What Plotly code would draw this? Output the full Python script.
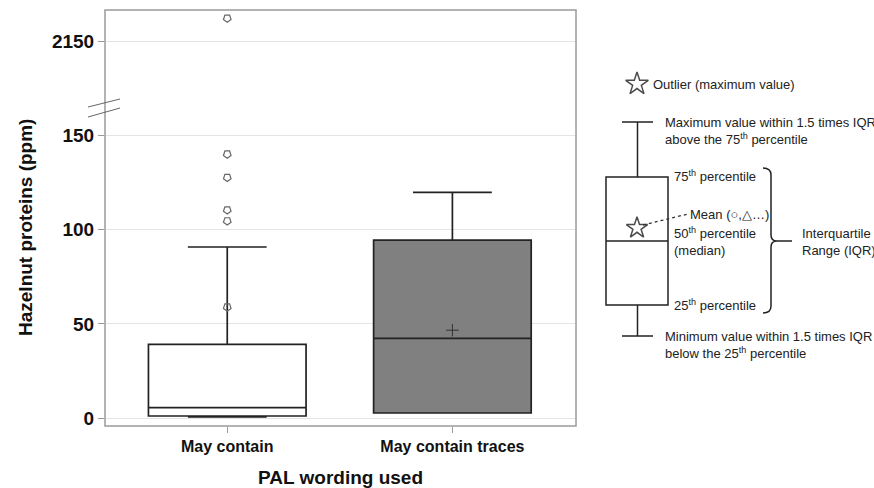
import plotly.graph_objects as go

# ---------------- data ----------------
categories = ["May contain", "May contain traces"]
q1 = [1.2, 2.8]
median = [5.6, 42.4]
q3 = [39.2, 94.5]
lowerfence = [0.7, 2.8]
upperfence = [90.8, 119.8]
box_fill = ["#ffffff", "#808080"]

mean_category = ["May contain traces"]
mean_value = [46.7]

outlier_category = ["May contain"] * 5
outlier_values = [58.9, 104.6, 110.4, 127.6, 140.0]
max_outlier_category = ["May contain"]
max_outlier_value = [2162.4]

lower_ticks = [0, 50, 100, 150]
upper_ticks = [2150]

W, H = 874, 488
FONT = "Liberation Sans, Arial, sans-serif"

fig = go.Figure()

for i, cat in enumerate(categories):
    fig.add_trace(go.Box(
        x=[cat], q1=[q1[i]], median=[median[i]], q3=[q3[i]],
        lowerfence=[lowerfence[i]], upperfence=[upperfence[i]],
        boxpoints=False, width=0.70, whiskerwidth=0.5,
        fillcolor=box_fill[i], line=dict(color="#222222", width=1.7),
        xaxis="x", yaxis="y", showlegend=False, hoverinfo="skip"))

fig.add_trace(go.Scatter(
    x=mean_category, y=mean_value, mode="markers",
    marker=dict(symbol="cross-thin-open", size=9, color="#333",
                line=dict(color="#333", width=1)),
    xaxis="x", yaxis="y", showlegend=False, hoverinfo="skip"))

fig.add_trace(go.Scatter(
    x=outlier_category, y=outlier_values, mode="markers",
    marker=dict(symbol="pentagon-open", angle=180, size=8, color="#666",
                line=dict(color="#666", width=1.2)),
    xaxis="x", yaxis="y", showlegend=False, hoverinfo="skip"))

fig.add_trace(go.Scatter(
    x=max_outlier_category, y=max_outlier_value, mode="markers",
    marker=dict(symbol="pentagon-open", angle=180, size=8, color="#666",
                line=dict(color="#666", width=1.2)),
    xaxis="x", yaxis="y2", showlegend=False, hoverinfo="skip", cliponaxis=False))

# ---------------- schematic (overlay pixel axes) ----------------
fig.add_trace(go.Scatter(
    x=[637, 637], y=[84, 228], mode="markers",
    marker=dict(symbol="star-open", size=[17, 16], color="#000",
                line=dict(color="#000", width=1.5)),
    xaxis="x3", yaxis="y3", showlegend=False, hoverinfo="skip", cliponaxis=False))


def px_line(x0, y0, x1, y1, color="#222", width=1.5, dash="solid"):
    return dict(type="line", xref="x3", yref="y3", x0=x0, y0=y0, x1=x1, y1=y1,
                line=dict(color=color, width=width, dash=dash), layer="above")


shapes = [
    # plot frame
    dict(type="rect", xref="x3", yref="y3", x0=105, y0=10, x1=576, y1=426,
         line=dict(color="#9a9a9a", width=1.5), layer="above"),
    # axis break marks
    px_line(88, 107, 120, 99, "#666", 1),
    px_line(88, 117, 120, 108, "#666", 1),
    # schematic box
    px_line(622, 122, 653, 122),
    px_line(637.5, 122, 637.5, 177),
    dict(type="rect", xref="x3", yref="y3", x0=606, y0=177, x1=668, y1=305,
         line=dict(color="#222", width=1.5), layer="above"),
    px_line(606, 241, 668, 241),
    px_line(637.5, 305, 637.5, 336),
    px_line(622, 336, 653, 336),
    px_line(643, 225, 688, 214, "#333", 1.3, "dot"),
    # brace
    dict(type="path", xref="x3", yref="y3",
         path="M 763 168 Q 771 168 771 175 L 771 235 Q 771 241 777 241 "
              "Q 771 241 771 247 L 771 306 Q 771 313 763 313",
         line=dict(color="#222", width=1.5), layer="above"),
    px_line(777, 241, 792, 241),
]

ann_font = dict(family=FONT, size=13, color="#222")


def label(x, y, text, **kw):
    d = dict(x=x, y=y, xref="x3", yref="y3", text=text, showarrow=False,
             xanchor="left", yanchor="middle", font=ann_font)
    d.update(kw)
    return d


annotations = [
    label(651, 84, "Outlier (maximum value)"),
    label(663, 122, "Maximum value within 1.5 times IQR"),
    label(663, 139, "above the 75<sup>th</sup> percentile"),
    label(672, 176, "75<sup>th</sup> percentile"),
    label(688, 214, "Mean (○,△…)"),
    label(672, 233, "50<sup>th</sup> percentile"),
    label(672, 250, "(median)"),
    label(672, 305, "25<sup>th</sup> percentile"),
    label(663, 336, "Minimum value within 1.5 times IQR"),
    label(663, 353, "below the 25<sup>th</sup> percentile"),
    label(800, 233, "Interquartile"),
    label(800, 250, "Range (IQR)"),
    dict(x=340, y=477, xref="x3", yref="y3", text="PAL wording used", showarrow=False,
         xanchor="center", yanchor="middle",
         font=dict(family=FONT, size=19, color="#111", weight="bold")),
    dict(x=25, y=228, xref="x3", yref="y3", text="Hazelnut proteins (ppm)", showarrow=False,
         xanchor="center", yanchor="middle", textangle=-90,
         font=dict(family=FONT, size=19, color="#111", weight="bold")),
]

lo_dom = [1 - 426 / H, 1 - 108 / H]
hi_dom = [1 - 108 / H, 1 - 10 / H]

tickfont = dict(family=FONT, size=19, color="#111", weight="bold")

fig.update_layout(
    width=W, height=H,
    margin=dict(l=0, r=0, t=0, b=0),
    paper_bgcolor="white", plot_bgcolor="rgba(0,0,0,0)",
    template="none",
    boxmode="overlay",
    showlegend=False,
    xaxis=dict(domain=[105 / W, 576 / W], anchor="y", type="category",
               categoryorder="array", categoryarray=categories,
               range=[-0.543, 1.549], showgrid=False, zeroline=False, showline=False,
               ticks="outside", ticklen=6, tickcolor="#9a9a9a", tickwidth=1,
               tickfont=dict(family=FONT, size=16, color="#111", weight="bold"),
               automargin=False, fixedrange=True),
    yaxis=dict(domain=lo_dom, anchor="x", range=[-4.1, 164.5],
               tickvals=lower_ticks, ticktext=[str(v) for v in lower_ticks],
               showgrid=True, gridcolor="#e4e4e4", gridwidth=1, zeroline=False,
               showline=False, ticks="outside", ticklen=6, tickcolor="#9a9a9a",
               tickfont=tickfont, automargin=False, fixedrange=True),
    yaxis2=dict(domain=hi_dom, anchor="x", range=[2114.8, 2166.8],
                tickvals=upper_ticks, ticktext=[str(v) for v in upper_ticks],
                showgrid=True, gridcolor="#e4e4e4", gridwidth=1, zeroline=False,
                showline=False, ticks="outside", ticklen=6, tickcolor="#9a9a9a",
                tickfont=tickfont, automargin=False, fixedrange=True),
    xaxis3=dict(domain=[0, 1], anchor="y3", range=[0, W], visible=False, fixedrange=True),
    yaxis3=dict(domain=[0, 1], anchor="x3", range=[H, 0], visible=False, fixedrange=True),
    shapes=shapes,
    annotations=annotations,
)

fig.write_html("out.html")
